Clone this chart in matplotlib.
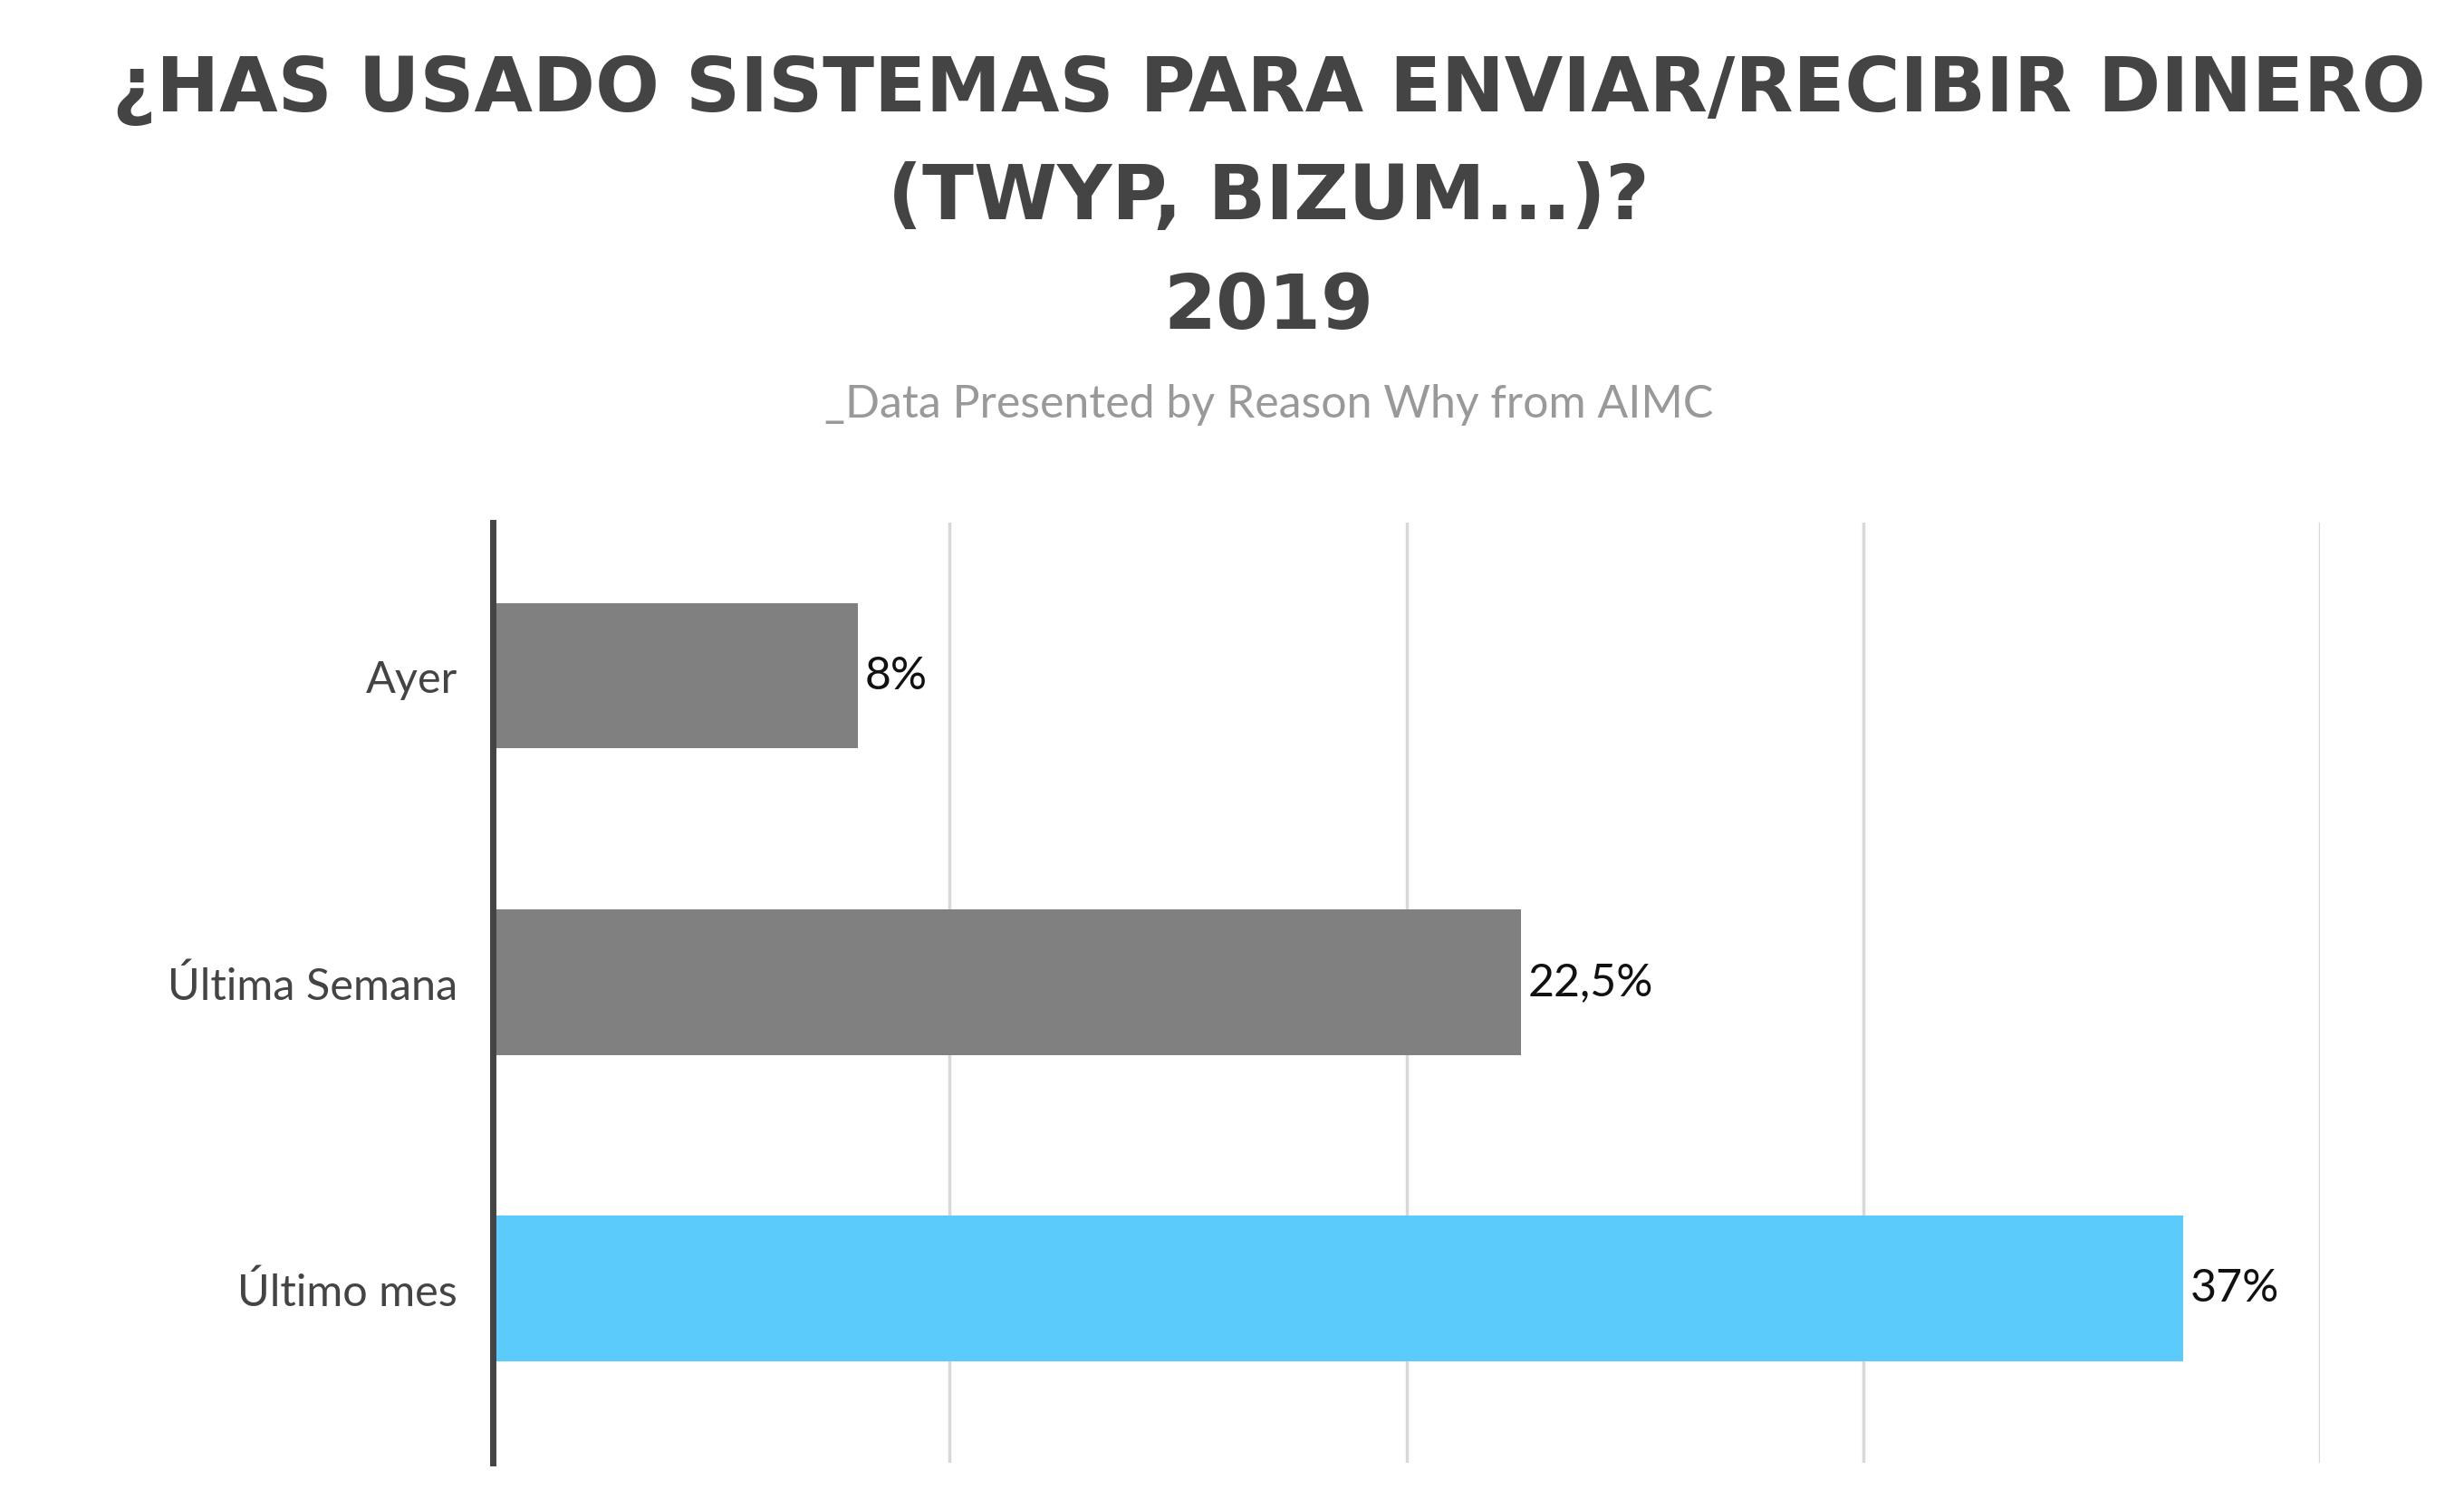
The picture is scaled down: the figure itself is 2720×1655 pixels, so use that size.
import matplotlib.pyplot as plt

categories = ["Último mes", "Última Semana", "Ayer"]
values = [37, 22.5, 8]
value_labels = ["37%", "22,5%", "8%"]
bar_colors = ["#5bcbfc", "#808080", "#808080"]

title_font = ["Liberation Sans Narrow", "DejaVu Sans"]

fig = plt.figure(figsize=(27.2, 16.56), dpi=100)
ax = fig.add_axes([0.2, 0.024, 0.7417, 0.627])

ypos = list(range(len(categories)))
ax.barh(ypos, values, height=0.475, color=bar_colors, zorder=3)
for y, v, lab in zip(ypos, values, value_labels):
    ax.text(v + 0.15, y, lab, va="center", ha="left", fontsize=36,
            family="Lato", color="#111111")

ax.set_xlim(0, 40)
ax.set_ylim(-0.57, 2.5)
ax.set_yticks(ypos)
ax.set_yticklabels(categories, fontsize=35, family="Lato", color="#444444")
ax.set_xticks([10, 20, 30, 40])
ax.tick_params(axis="x", length=0, labelbottom=False)
ax.tick_params(axis="y", length=0, pad=28)
ax.grid(axis="x", color="#d8d8d8", linewidth=2.5, zorder=0)
for s in ["top", "right", "bottom"]:
    ax.spines[s].set_visible(False)
ax.spines["left"].set_linewidth(5)
ax.spines["left"].set_color("#444444")
ax.spines["left"].set_zorder(4)

for txt, yy in [("¿HAS USADO SISTEMAS PARA ENVIAR/RECIBIR DINERO", 0.94),
                ("(TWYP, BIZUM...)?", 0.868), ("2019", 0.795)]:
    fig.text(0.515, yy, txt, ha="center", va="center", fontsize=60,
             fontweight="bold", family=title_font, color="#444444")
fig.text(0.515, 0.73, "_Data Presented by Reason Why from AIMC", ha="center", va="center",
         fontsize=36, family="Lato", color="#999999")

fig.savefig("out.png", dpi=100, facecolor="white")
